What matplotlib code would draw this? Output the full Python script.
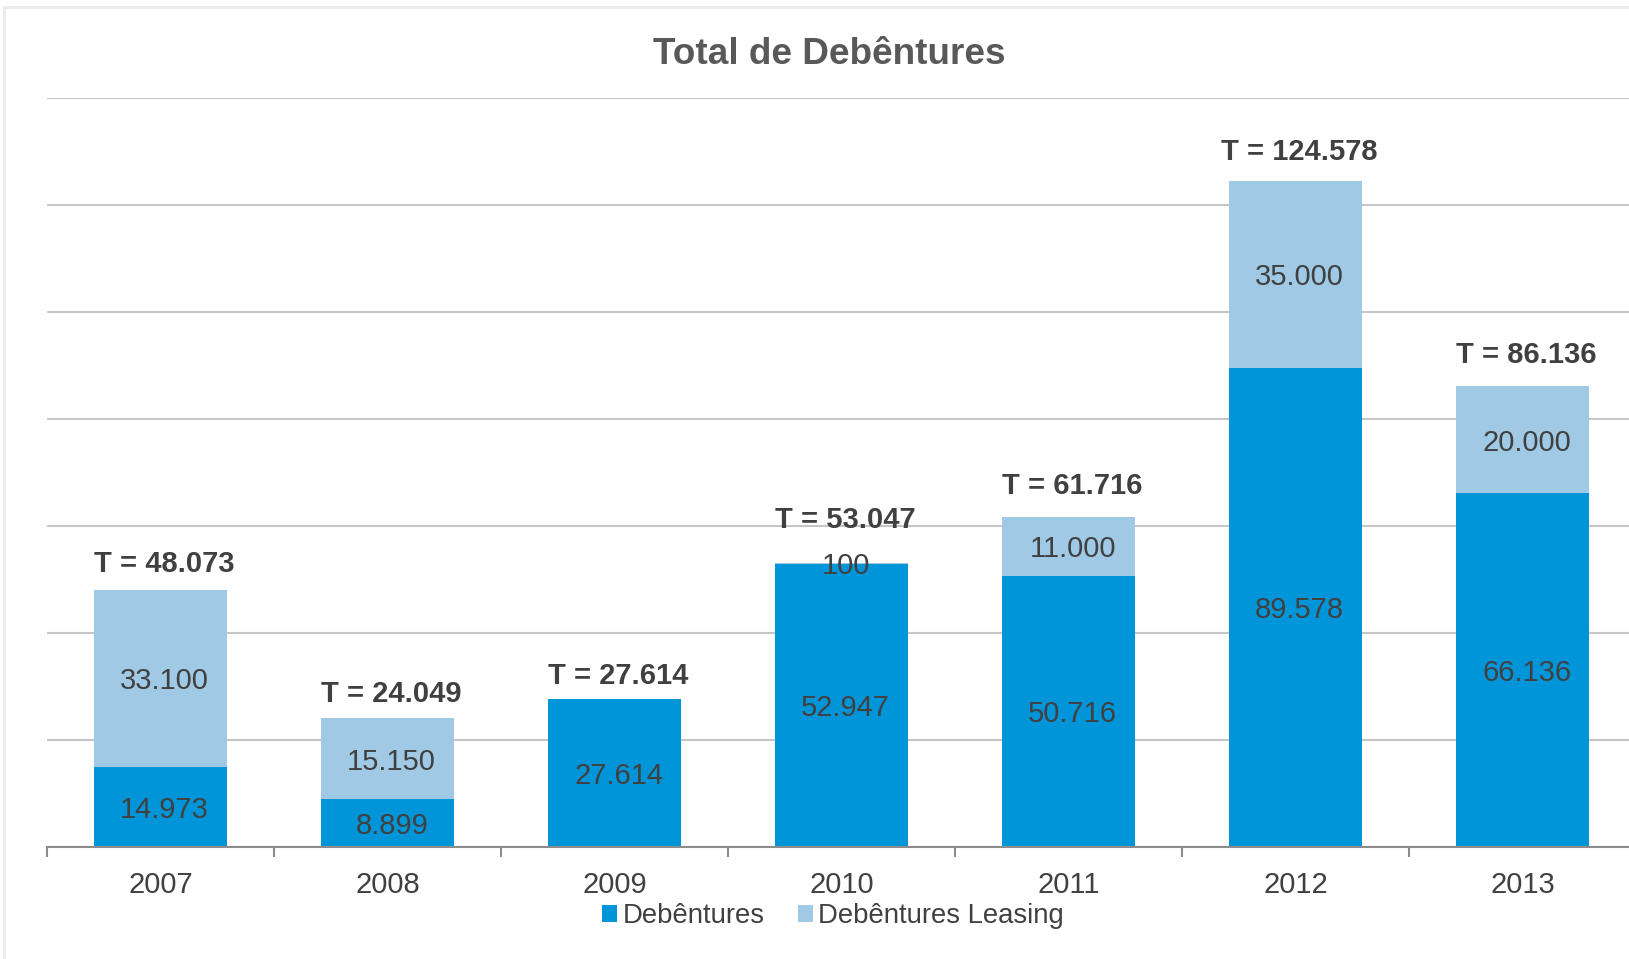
import matplotlib.pyplot as plt
from matplotlib.lines import Line2D

# dados
anos = ["2007", "2008", "2009", "2010", "2011", "2012", "2013"]
debentures = [14973, 8899, 27614, 52947, 50716, 89578, 66136]
leasing = [33100, 15150, 0, 100, 11000, 35000, 20000]
totais = [48073, 24049, 27614, 53047, 61716, 124578, 86136]
# distancia (pixels) do rotulo total acima da barra
off_total = [26, 24, 23, 43, 31, 29, 31]

cor_deb = "#0095D8"
cor_lea = "#9FC9E4"
cor_txt = "#404040"

plt.rcParams['font.family'] = ['Liberation Sans', 'DejaVu Sans']

fig = plt.figure(figsize=(16.29, 9.59), dpi=100)
ax = fig.add_axes([47 / 1629, 1 - 847 / 959, (1636 - 47) / 1629, (847 - 98) / 959])

x = list(range(len(anos)))
larg = 0.59
ax.bar(x, debentures, width=larg, color=cor_deb, label="Debêntures", zorder=3)
ax.bar(x, leasing, width=larg, bottom=debentures, color=cor_lea,
       label="Debêntures Leasing", zorder=3)

dx = 3  # rotulos levemente deslocados para a direita (pontos)
for i in x:
    ax.annotate(f"{debentures[i]:,}".replace(",", "."), (i, debentures[i] / 2),
                xytext=(dx, 0), textcoords="offset points",
                ha="center", va="center_baseline", fontsize=21, color=cor_txt, zorder=4)
    if leasing[i] > 0:
        ax.annotate(f"{leasing[i]:,}".replace(",", "."), (i, debentures[i] + leasing[i] / 2),
                    xytext=(dx, 0), textcoords="offset points",
                    ha="center", va="center_baseline", fontsize=21, color=cor_txt, zorder=4)
    ax.annotate("T = " + f"{totais[i]:,}".replace(",", "."),
                (i, debentures[i] + leasing[i]), xytext=(dx, off_total[i] * 0.72),
                textcoords="offset points", ha="center", va="center",
                fontsize=21, fontweight="bold", color=cor_txt, zorder=4)

ax.set_xlim(-0.5, 6.5)
ax.set_ylim(0, 140000)
ax.set_yticks(range(0, 140001, 20000))
ax.tick_params(axis="y", left=False, labelleft=False)
ax.grid(axis="y", color="#C6C6C6", linewidth=1.5, zorder=0)

ax.set_xticks([i - 0.5 for i in range(8)])
ax.set_xticklabels([])
ax.tick_params(axis="x", which="major", direction="out", length=7, width=1.5, color="#8C8C8C")
ax.set_xticks(x, minor=True)
ax.set_xticklabels(anos, minor=True, fontsize=21, color=cor_txt)
ax.tick_params(axis="x", which="minor", length=0, pad=17)

for s in ["top", "right", "left"]:
    ax.spines[s].set_visible(False)
ax.spines["bottom"].set_color("#8C8C8C")
ax.spines["bottom"].set_linewidth(1.5)
ax.spines["bottom"].set_zorder(5)

fig.text(829 / 1629, 1 - 55 / 959, "Total de Debêntures", ha="center", va="center",
         fontsize=26.6, fontweight="bold", color="#595959")

fig.legend(loc="center", bbox_to_anchor=(833 / 1629, 1 - 916 / 959), ncol=2, frameon=False,
           fontsize=19.8, handlelength=0.55, handleheight=0.55, handletextpad=0.2,
           columnspacing=1.2, labelcolor=cor_txt)

# moldura clara
fig.add_artist(Line2D([4 / 1629, 4 / 1629], [0, 1 - 7 / 959], transform=fig.transFigure,
                      color="#EBEBEB", linewidth=2))
fig.add_artist(Line2D([4 / 1629, 1], [1 - 7 / 959, 1 - 7 / 959], transform=fig.transFigure,
                      color="#EBEBEB", linewidth=2))

fig.savefig("out.png", dpi=100)
